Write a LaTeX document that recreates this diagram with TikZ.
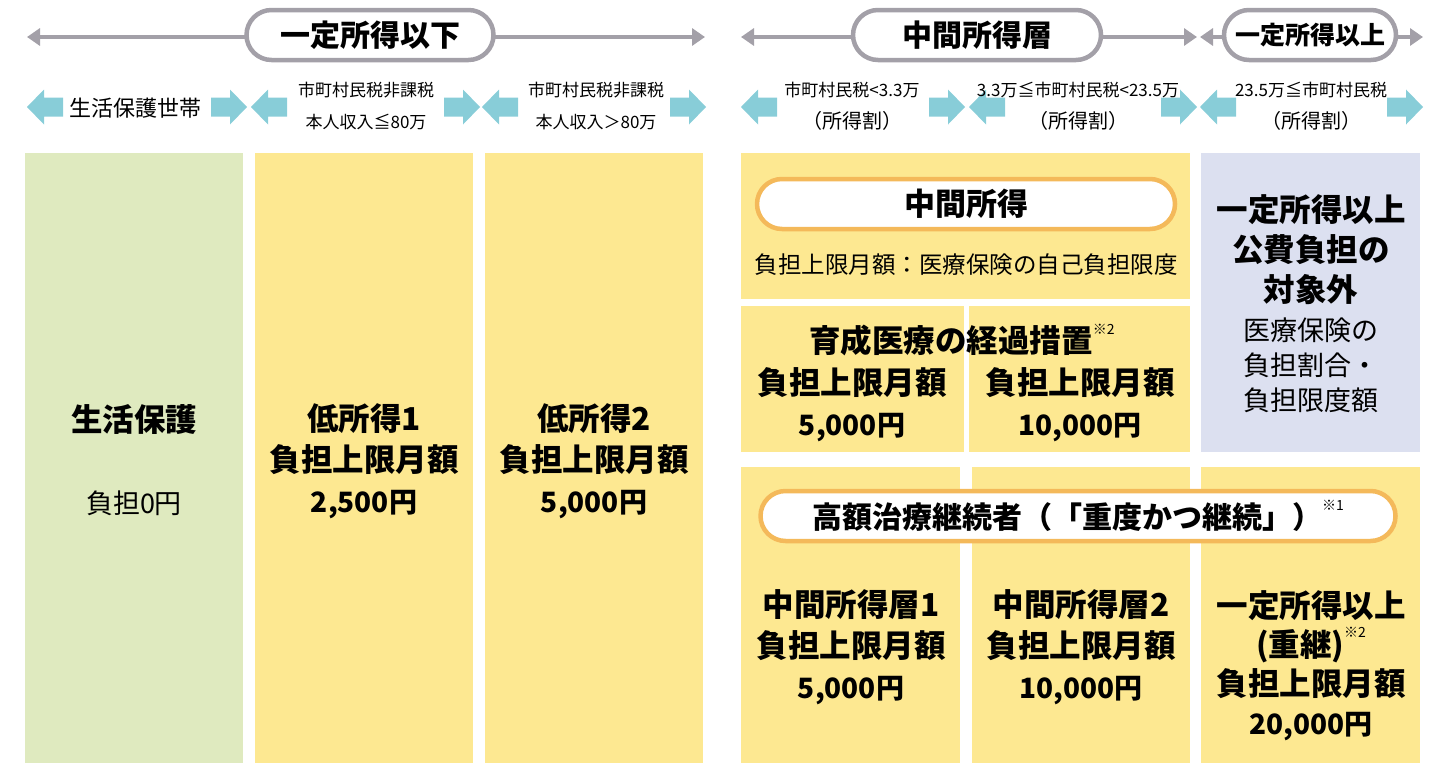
\documentclass[tikz,border=0pt]{standalone}
\usepackage{fontspec}
\setmainfont{Noto Sans CJK JP}
\usetikzlibrary{shapes.misc, arrows.meta, positioning}
\definecolor{rangeGray}{RGB}{163,160,168}
\definecolor{bandCyan}{RGB}{136,205,216}
\definecolor{welfareGreen}{RGB}{223,234,191}
\definecolor{burdenYellow}{RGB}{253,232,145}
\definecolor{exemptLilac}{RGB}{220,224,240}
\definecolor{pillOrange}{RGB}{244,185,90}
\newcommand{\kome}[1]{\raisebox{0.6em}{\fontsize{14}{14}\selectfont\mdseries ※#1}}
\newcommand{\yen}[1]{{\fontsize{28}{41}\selectfont #1}}
\newcommand{\bracketline}[1]{{\fontsize{20}{32}\selectfont #1}}

\begin{document}
\begin{tikzpicture}[
    x=1pt, y=-1pt,
    rangeline/.style={draw=rangeGray, line width=4pt, {Triangle[length=13pt, width=17pt]}-{Triangle[length=13pt, width=17pt]}},
    rangepill/.style={rounded rectangle, draw=rangeGray, line width=4.5pt, fill=white, minimum height=50pt, inner sep=0pt, font=\fontsize{30}{30}\selectfont\bfseries},
    bandlabel/.style={font=\fontsize{17}{32}\selectfont, align=center},
    cell/.style={rectangle, draw=none, inner sep=0pt, anchor=north west},
    orangepill/.style={rounded rectangle, draw=pillOrange, line width=4.5pt, fill=white, minimum height=50pt, inner sep=0pt, font=\fontsize{31}{31}\selectfont\bfseries},
    bigtext/.style={font=\fontsize{31.5}{41}\selectfont\bfseries, align=center},
    midtext/.style={font=\fontsize{27}{35}\selectfont, align=center},
    bandtip/.pic={\fill[bandCyan] (0,0) -- (-17,-17.5) -- (-17,-9.5) -- (-36,-9.5) -- (-36,9.5) -- (-17,9.5) -- (-17,17.5) -- cycle;}
]
\useasboundingbox (0,0) rectangle (1439,763);

% Range lines
\coordinate (lowL) at (27,37);
\coordinate (lowR) at (705,37);
\coordinate (midL) at (741,37);
\coordinate (midR) at (1197,37);
\coordinate (highL) at (1200,37);
\coordinate (highR) at (1423,37);
\draw[rangeline] (lowL) -- (lowR);
\draw[rangeline] (midL) -- (midR);
\draw[rangeline] (highL) -- (highR);
\node[rangepill, minimum width=247pt] (lowpill) at (370,35) {一定所得以下};
\node[rangepill, minimum width=248pt] (midpill) at (977,35) {中間所得層};
\node[rangepill, minimum width=172pt, font=\fontsize{25}{25}\selectfont\bfseries] (highpill) at (1310,35) {一定所得以上};

% Band arrows
\foreach \tip in {27,251,482,741,969,1200}
    \path (\tip,107) pic[xscale=-1] {bandtip};
\foreach \tip in {247,480,706,965,1197,1423}
    \path (\tip,107) pic {bandtip};

% Band labels
\node[bandlabel, font=\fontsize{22}{22}\selectfont] (bandwelfare) at (135,108) {生活保護世帯};
\node[bandlabel] (bandlow1) at (366,106) {市町村民税非課税\\本人収入≦80万};
\node[bandlabel] (bandlow2) at (596,106) {市町村民税非課税\\本人収入＞80万};
\node[bandlabel] (bandmid1) at (852,106) {市町村民税<3.3万\\\bracketline{（所得割）}};
\node[bandlabel] (bandmid2) at (1078,106) {3.3万≦市町村民税<23.5万\\\bracketline{（所得割）}};
\node[bandlabel] (bandhigh) at (1311,106) {23.5万≦市町村民税\\\bracketline{（所得割）}};

% Left columns
\node[cell, fill=welfareGreen, minimum width=218pt, minimum height=610pt] (welfare) at (25,153) {};
\node[cell, fill=burdenYellow, minimum width=218pt, minimum height=610pt] (low1) at (255,153) {};
\node[cell, fill=burdenYellow, minimum width=218pt, minimum height=610pt] (low2) at (485,153) {};

\node[bigtext] (welfaretitle) at (134,420) {生活保護};
\node[font=\fontsize{27}{27}\selectfont] (welfarecost) at (134,503) {負担0円};
\node[bigtext] (low1text) at (364,461) {低所得1\\負担上限月額\\\yen{2,500円}};
\node[bigtext] (low2text) at (594,461) {低所得2\\負担上限月額\\\yen{5,000円}};

% Middle income (top)
\node[cell, fill=burdenYellow, minimum width=449pt, minimum height=146pt] (midbox) at (741,153) {};
\node[orangepill, minimum width=418pt] (midtitle) at (966,204) {中間所得};
\node[font=\fontsize{23.5}{23.5}\selectfont] (midnote) at (966,265) {負担上限月額：医療保険の自己負担限度};

% Transitional measure
\node[cell, fill=burdenYellow, minimum width=223pt, minimum height=146pt] (trans1) at (741,306) {};
\node[cell, fill=burdenYellow, minimum width=221pt, minimum height=146pt] (trans2) at (969,306) {};
\node[bigtext] (transtitle) at (962,340) {育成医療の経過措置\kome{2}};
\node[bigtext] (trans1text) at (852,405) {負担上限月額\\\yen{5,000円}};
\node[bigtext] (trans2text) at (1080,405) {負担上限月額\\\yen{10,000円}};

% High income
\node[cell, fill=exemptLilac, minimum width=219pt, minimum height=299pt] (highbox) at (1201,153) {};
\node[bigtext, font=\fontsize{31.5}{40}\selectfont\bfseries] (hightitle) at (1311,250) {一定所得以上\\公費負担の\\対象外};
\node[midtext] (highnote) at (1311,365) {医療保険の\\負担割合・\\負担限度額};

% Severe and continuing
\node[cell, fill=burdenYellow, minimum width=219pt, minimum height=296pt] (severe1) at (741,467) {};
\node[cell, fill=burdenYellow, minimum width=218pt, minimum height=296pt] (severe2) at (972,467) {};
\node[cell, fill=burdenYellow, minimum width=219pt, minimum height=296pt] (severe3) at (1201,467) {};
\node[orangepill, minimum width=635pt, font=\fontsize{30}{30}\selectfont\bfseries] (severetitle) at (1078,516) {高額治療継続者（「重度かつ継続」）\kome{1}};
\node[bigtext] (severe1text) at (851,647) {中間所得層1\\負担上限月額\\\yen{5,000円}};
\node[bigtext] (severe2text) at (1081,647) {中間所得層2\\負担上限月額\\\yen{10,000円}};
\node[bigtext, font=\fontsize{31.5}{39}\selectfont\bfseries] (severe3text) at (1311,666) {一定所得以上\\(重継)\kome{2}\\負担上限月額\\{\fontsize{28}{39}\selectfont 20,000円}};

\end{tikzpicture}
\end{document}
